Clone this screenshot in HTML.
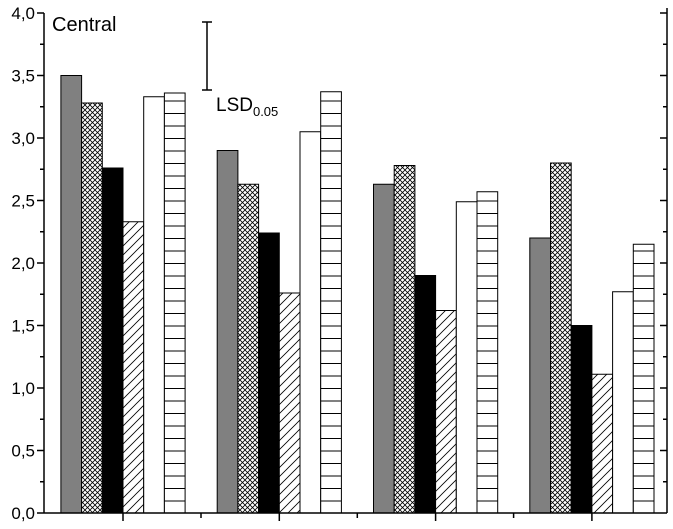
<!DOCTYPE html>
<html><head><meta charset="utf-8"><style>
body{margin:0;background:#fff}
svg{display:block;font-family:"Liberation Sans",sans-serif}
</style></head><body>
<svg width="673" height="529" viewBox="0 0 673 529">
<defs>
<pattern id="cross" width="5" height="5" patternUnits="userSpaceOnUse"><rect width="5" height="5" fill="#fff"/><path d="M0 0L5 5M5 0L0 5" stroke="#000" stroke-width="0.8"/></pattern>
<pattern id="diag" width="9" height="9" patternUnits="userSpaceOnUse"><rect width="9" height="9" fill="#fff"/><path d="M0 9L9 0M-2 2L2 -2M7 11L11 7" stroke="#000" stroke-width="0.8"/></pattern>
<pattern id="horiz" width="10" height="12.5" patternUnits="userSpaceOnUse" patternTransform="translate(0,513)"><rect width="10" height="12.5" fill="#fff"/><path d="M0 0.5H10" stroke="#000" stroke-width="1"/></pattern>
</defs>
<g id="bars"></g>
<g id="axes"></g>
<text x="52" y="31" font-size="20">Central</text>
<g>
<path d="M207 22V90M202 22H212M202 90H212" stroke="#000" stroke-width="1.5" fill="none"/>
</g>
<text x="216" y="111" font-size="19">LSD<tspan font-size="13" dy="5">0.05</tspan></text>
</svg>
<script>
const groups=["G1","G2","G3","G4"];
const s1=[3.50,2.90,2.63,2.20];
const s2=[3.28,2.63,2.78,2.80];
const s3=[2.76,2.24,1.90,1.50];
const s4=[2.33,1.76,1.62,1.11];
const s5=[3.33,3.05,2.49,1.77];
const s6=[3.36,3.37,2.57,2.15];
const yTicks=["0,0","0,5","1,0","1,5","2,0","2,5","3,0","3,5","4,0"];
const series=[s1,s2,s3,s4,s5,s6];
const fills=["#808080","url(#cross)","#000","url(#diag)","#fff","url(#horiz)"];
const NS="http://www.w3.org/2000/svg";
const X0=44,X1=667,Y0=513,PU=125;
const y=v=>Y0-v*PU;
const gc=i=>123+i*156.3;
const BW=20.7;
const bars=document.getElementById('bars');
series.forEach((s,k)=>s.forEach((v,i)=>{
 const r=document.createElementNS(NS,'rect');
 r.setAttribute('x',gc(i)-3*BW+k*BW);r.setAttribute('y',y(v));
 r.setAttribute('width',BW);r.setAttribute('height',Y0-y(v));
 r.setAttribute('fill',fills[k]);r.setAttribute('stroke','#000');r.setAttribute('stroke-width','1');
 
 
 bars.appendChild(r);
}));
const ax=document.getElementById('axes');
let d=`M${X0} ${Y0}H${X1}M${X0} ${Y0}V13M${X1} ${Y0}V8`;
for(let i=0;i<=16;i++){const yy=y(i*0.25);const L=i%2?4:7;d+=`M${X0} ${yy}h-${L}M${X1} ${yy}h-${L}`;}
groups.forEach((g,i)=>{d+=`M${gc(i)} ${Y0}v8`;if(i<3)d+=`M${gc(i)+78} ${Y0}v5`;});
const p=document.createElementNS(NS,'path');
p.setAttribute('d',d);p.setAttribute('stroke','#000');p.setAttribute('stroke-width','1.5');p.setAttribute('fill','none');


ax.appendChild(p);
yTicks.forEach((t,i)=>{
 const tx=document.createElementNS(NS,'text');
 tx.setAttribute('x',X0-9);tx.setAttribute('y',y(i*0.5)+6);
 tx.setAttribute('text-anchor','end');tx.setAttribute('font-size','17');
 tx.textContent=t;
 
 
 ax.appendChild(tx);
});
</script>
</body></html>
